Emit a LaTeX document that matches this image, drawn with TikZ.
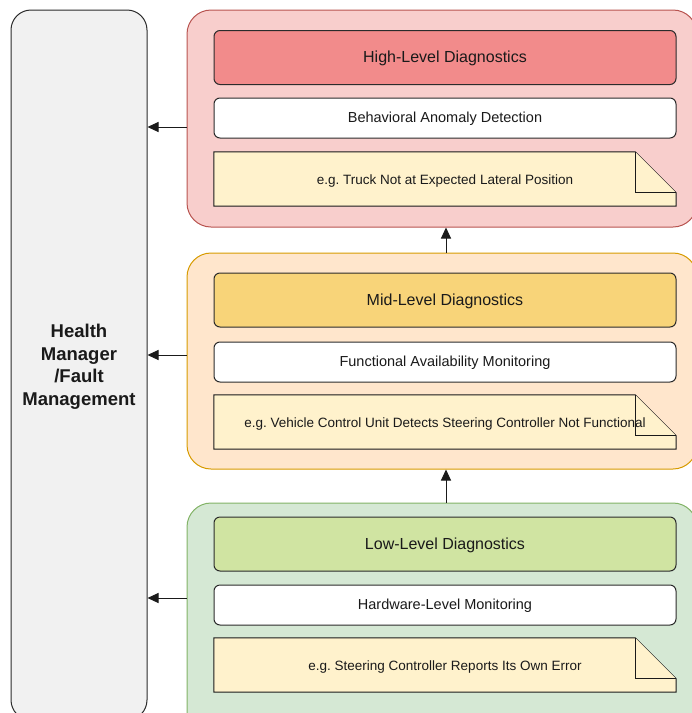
\documentclass[tikz,border=0pt]{standalone}
\usepackage{fontspec}
\setmainfont{Liberation Sans}
\usetikzlibrary{arrows.meta}
\frenchspacing

\definecolor{hiFill}{HTML}{F8CECC}
\definecolor{hiLine}{HTML}{B85450}
\definecolor{hiHead}{HTML}{F28B8B}
\definecolor{midFill}{HTML}{FFE6CC}
\definecolor{midLine}{HTML}{D79B00}
\definecolor{midHead}{HTML}{F8D479}
\definecolor{lowFill}{HTML}{D5E8D4}
\definecolor{lowLine}{HTML}{82B366}
\definecolor{lowHead}{HTML}{D0E4A2}
\definecolor{noteFill}{HTML}{FFF2CC}
\definecolor{panelFill}{HTML}{F1F1F1}
\definecolor{ink}{HTML}{1A1A1A}
\definecolor{edge}{HTML}{2B2B2B}

\tikzset{
  layer/.style={draw=#1, line width=1pt, rounded corners=24pt,
    minimum width=510pt, inner sep=0pt},
  headbox/.style={draw=edge, line width=1pt, fill=#1, rounded corners=6pt,
    minimum width=462pt, minimum height=54pt, inner sep=0pt,
    text=ink, font=\fontsize{16}{19}\selectfont,
    text height=11.5pt, text depth=1pt},
  itembox/.style={draw=edge, line width=1pt, fill=white, rounded corners=6pt,
    minimum width=462pt, minimum height=40pt, inner sep=0pt,
    text=ink, font=\fontsize{14.5}{17}\selectfont,
    text height=10.4pt, text depth=1pt},
  notebox/.style={minimum width=462pt, minimum height=54pt, inner sep=0pt,
    text=ink, font=\fontsize{13.5}{16}\selectfont,
    text height=9.7pt, text depth=2.9pt},
  notefold/.style={draw=ink, line width=1pt, fill=noteFill, line join=miter},
  arr/.style={draw=ink, line width=1pt,
    -{Triangle[width=10pt,length=11pt]}},
}

% draws the dog-eared outline behind a note node
\newcommand{\dogear}[1]{%
  \path[notefold] (#1.north west) -- ([xshift=-41pt]#1.north east)
    -- ([yshift=-41pt]#1.north east) -- (#1.south east)
    -- (#1.south west) -- cycle;
  \draw[notefold, fill=noteFill] ([xshift=-41pt]#1.north east)
    -- ([xshift=-41pt,yshift=-41pt]#1.north east)
    -- ([yshift=-41pt]#1.north east);
}

\begin{document}
\begin{tikzpicture}[x=1pt, y=-1pt]
\useasboundingbox (0,0) rectangle (692,713);
\clip (0,0) rectangle (692,713);

% health manager panel
\node[draw=edge, line width=1pt, fill=panelFill, rounded corners=20pt,
  minimum width=136pt, minimum height=710pt, inner sep=0pt] (hm) at (79,365) {};
\node[align=center, text=ink, font=\bfseries\fontsize{18.5}{22.5}\selectfont]
  (hmtext) at (79,367) {Health\\Manager\\/Fault\\Management};

% high-level layer
\node[layer=hiLine, fill=hiFill, minimum height=217pt] (hiC) at (442,118.5) {};
\node[headbox=hiHead] (hiH) at (445,57.5) {High-Level Diagnostics};
\node[itembox] (hiI) at (445,118) {Behavioral Anomaly Detection};
\node[notebox] (hiN) at (445,179) {};
\dogear{hiN}
\node[notebox] (hiT) at (445,181) {e.g. Truck Not at Expected Lateral Position};

% mid-level layer
\node[layer=midLine, fill=midFill, minimum height=216pt] (midC) at (442,361) {};
\node[headbox=midHead] (midH) at (445,300) {Mid-Level Diagnostics};
\node[itembox] (midI) at (445,362) {Functional Availability Monitoring};
\node[notebox] (midN) at (445,422) {};
\dogear{midN}
\node[notebox] (midT) at (445,424) {e.g. Vehicle Control Unit Detects Steering Controller Not Functional};

% low-level layer
\node[layer=lowLine, fill=lowFill, minimum height=232pt] (lowC) at (442,619) {};
\node[headbox=lowHead] (lowH) at (445,544) {Low-Level Diagnostics};
\node[itembox] (lowI) at (445,605) {Hardware-Level Monitoring};
\node[notebox] (lowN) at (445,665) {};
\dogear{lowN}
\node[notebox] (lowT) at (445,667) {e.g. Steering Controller Reports Its Own Error};

% escalation between layers
\draw[arr] (lowC.north -| 446,0) -- (midC.south -| 446,0);
\draw[arr] (midC.north -| 446,0) -- (hiC.south -| 446,0);

% reports to the health manager
\draw[arr] (hiC.west |- 0,127) -- (hm.east |- 0,127);
\draw[arr] (midC.west |- 0,355) -- (hm.east |- 0,355);
\draw[arr] (lowC.west |- 0,598) -- (hm.east |- 0,598);
\end{tikzpicture}
\end{document}
